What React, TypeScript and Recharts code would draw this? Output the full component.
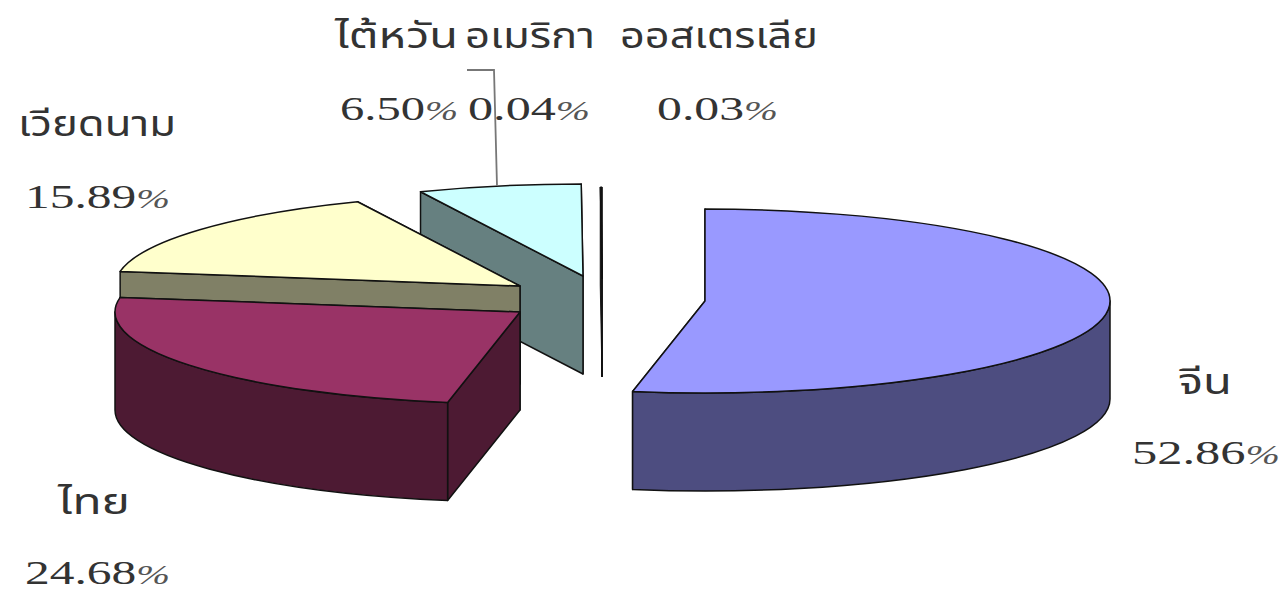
import { PieChart, Pie } from "recharts";

const WIDTH = 1284;
const HEIGHT = 590;

// painted back to front, so the list runs anticlockwise from the top of the pie
const names = ["ออสเตรเลีย", "อเมริกา", "ไต้หวัน", "เวียดนาม", "ไทย", "จีน"];
const shares = [0.03, 0.04, 6.5, 15.89, 24.68, 52.86];
const percentLabels = ["0.03", "0.04", "6.50", "15.89", "24.68", "52.86"];

const topColors = ["#333333", "#333333", "#CCFFFF", "#FFFFCC", "#993366", "#9999FF"];
const sideColors = ["#1a1a1a", "#1a1a1a", "#668080", "#808066", "#4D1A33", "#4D4D80"];

// exploded centre of each slice
const centerX = [602, 602, 583, 520, 520, 705];
const centerY = [279, 279, 276, 286, 312, 301];

// x, width, baseline
const nameBox = [
  [620, 198, 48],
  [465, 130, 48],
  [335, 123, 48],
  [18, 158, 136],
  [58, 72, 514],
  [1178, 54, 394],
];
const valueBox = [
  [657, 121, 120],
  [468, 122, 120],
  [340, 118, 120],
  [25, 145, 208],
  [25, 145, 584],
  [1132, 148, 464],
];

const SQUASH = 0.2272;
const DEPTH = 98;
const RAD = Math.PI / 180;
const FONT = "'Liberation Serif', 'Noto Sans', serif";
const THAI_FONT = "'Noto Sans Thai', 'Noto Sans', 'DejaVu Sans', sans-serif";

function SliceShape(props: any) {
  const { outerRadius, startAngle, endAngle, index } = props;
  const cx = centerX[index];
  const cy = centerY[index];
  const rx = outerRadius;
  const ry = outerRadius * SQUASH;
  const lo = Math.min(startAngle, endAngle);
  const hi = Math.max(startAngle, endAngle);
  const pt = (a: number, d = 0) => [cx + rx * Math.cos(a * RAD), cy - ry * Math.sin(a * RAD) + d];
  const large = hi - lo > 180 ? 1 : 0;
  const [x1, y1] = pt(lo);
  const [x2, y2] = pt(hi);

  // the two sliver slices sit on top of each other and read as one line
  const sliver = hi - lo < 1;
  const stroke = { stroke: "#111", strokeWidth: sliver ? 0.9 : 1.5, strokeLinejoin: "round" as const };
  const radial = (x: number, y: number) =>
    `M${cx},${cy} L${x},${y} L${x},${y + DEPTH} L${cx},${cy + DEPTH} Z`;

  // outer wall only exists where the rim faces the viewer (180..360 degrees)
  let wall = null;
  const wallLo = Math.max(lo, 180);
  const wallHi = Math.min(hi, 360);
  if (wallHi > wallLo) {
    const [ax, ay] = pt(wallLo);
    const [bx, by] = pt(wallHi);
    wall = (
      <path
        d={`M${ax},${ay} A${rx},${ry} 0 0 0 ${bx},${by} L${bx},${by + DEPTH} A${rx},${ry} 0 0 1 ${ax},${ay + DEPTH} Z`}
        fill={sideColors[index]}
        {...stroke}
      />
    );
  }

  return (
    <g>
      <path d={radial(x1, y1)} fill={sideColors[index]} {...stroke} />
      <path d={radial(x2, y2)} fill={sideColors[index]} {...stroke} />
      {wall}
      <path
        d={`M${cx},${cy} L${x2},${y2} A${rx},${ry} 0 ${large} 1 ${x1},${y1} Z`}
        fill={topColors[index]}
        {...stroke}
      />
    </g>
  );
}

function SliceLabel(props: any) {
  const { index } = props;
  const [nx, nw, ny] = nameBox[index];
  const [vx, vw, vy] = valueBox[index];
  return (
    <g>
      {names[index] === "ไต้หวัน" && (
        <path d="M497,186 L494,70 L467,70" fill="none" stroke="#777" strokeWidth={1.8} />
      )}
      <text
        x={nx}
        y={ny}
        textLength={nw}
        lengthAdjust="spacingAndGlyphs"
        fontFamily={THAI_FONT}
        fontSize={36}
        fill="#333"
      >
        {names[index]}
      </text>
      <text
        x={vx}
        y={vy}
        textLength={vw}
        lengthAdjust="spacingAndGlyphs"
        fontFamily={FONT}
        fontSize={33}
        fill="#333"
      >
        {percentLabels[index]}
        <tspan fontStyle="italic" fontSize={27} fill="#555">%</tspan>
      </text>
    </g>
  );
}

export default function App() {
  const data = names.map((name, i) => ({ name, value: shares[i] }));
  return (
    <div style={{ position: "absolute", left: 0, top: 0, width: WIDTH, height: HEIGHT, background: "#fff" }}>
      <PieChart width={WIDTH} height={HEIGHT} margin={{ top: 0, right: 0, bottom: 0, left: 0 }}>
        <Pie
          data={data}
          dataKey="value"
          nameKey="name"
          cx={642}
          cy={295}
          innerRadius={0}
          outerRadius={405}
          startAngle={90}
          endAngle={450}
          paddingAngle={0}
          stroke="none"
          shape={SliceShape}
          label={SliceLabel}
          labelLine={false}
          isAnimationActive={false}
        />
      </PieChart>
    </div>
  );
}
